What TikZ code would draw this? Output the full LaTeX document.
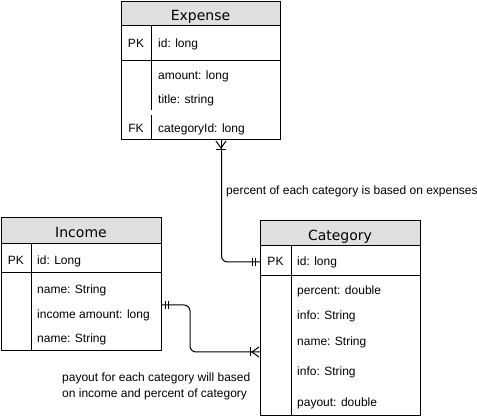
\documentclass[tikz,border=0pt]{standalone}
\usepackage{fontspec}
\setmainfont{Liberation Sans}
\newfontfamily\titlefont{DejaVu Sans}
\definecolor{hdrgray}{RGB}{224,224,224}
\tikzset{
  ent/.style={draw=black, line width=1pt, outer sep=0pt, inner sep=0pt, anchor=north west},
  sep/.style={draw=black, line width=1pt},
  hdrfill/.style={fill=hdrgray},
  fld/.style={anchor=base west, inner sep=0pt, font=\fontsize{12}{14}\selectfont},
  keytxt/.style={anchor=base, inner sep=0pt, font=\fontsize{12}{14}\selectfont},
  ttl/.style={anchor=base, inner sep=0pt, font=\titlefont\fontsize{14}{16}\selectfont},
  lbl/.style={anchor=base west, inner sep=0pt, font=\fontsize{12}{14}\selectfont},
  conn/.style={draw=black, line width=1pt, rounded corners=6pt},
  ermark/.style={draw=black, line width=1pt},
}
\begin{document}
\begin{tikzpicture}[x=1pt,y=-1pt]
\useasboundingbox (0,0) rectangle (477,419);

% ---------- Expense ----------
\fill[hdrfill] (121,2) rectangle (280,26);
\node[ent, minimum width=159pt, minimum height=138pt] (expense) at (121,2) {};
\draw[sep] (121,26) -- (280,26);
\draw[sep] (121,61) -- (280,61);
\draw[sep] (151,26) -- (151,110);
\draw[sep] (151,115) -- (151,140);
\node[ttl] (exptitle) at (200.5,21) {Expense};
\node[keytxt] (exppk) at (136,47.5) {PK};
\node[fld] (expid) at (158,47.5) {id: long};
\node[fld] (expamount) at (158,79.5) {amount: long};
\node[fld] (exptitlef) at (158,103.5) {title: string};
\node[keytxt] (expfk) at (136,132.5) {FK};
\node[fld] (expcat) at (158,132.5) {categoryId: long};

% ---------- Income ----------
\fill[hdrfill] (1,218) rectangle (161,244);
\node[ent, minimum width=160pt, minimum height=133pt] (income) at (1,218) {};
\draw[sep] (1,244) -- (161,244);
\draw[sep] (1,273) -- (161,273);
\draw[sep] (31,244) -- (31,351);
\node[ttl] (inctitle) at (81,238) {Income};
\node[keytxt] (incpk) at (16,264.5) {PK};
\node[fld] (incid) at (37,264.5) {id: Long};
\node[fld] (incname) at (37,293.5) {name: String};
\node[fld] (incamount) at (37,318.5) {income amount: long};
\node[fld] (incname2) at (37,342.5) {name: String};

% ---------- Category ----------
\fill[hdrfill] (260,221) rectangle (420,246);
\node[ent, minimum width=160pt, minimum height=195pt] (category) at (260,221) {};
\draw[sep] (260,246) -- (420,246);
\draw[sep] (260,276) -- (420,276);
\draw[sep] (291,246) -- (291,416);
\node[ttl] (cattitle) at (340,240.5) {Category};
\node[keytxt] (catpk) at (275.5,265.5) {PK};
\node[fld] (catid) at (297,265.5) {id: long};
\node[fld] (catpercent) at (297,294.5) {percent: double};
\node[fld] (catinfo) at (297,319.5) {info: String};
\node[fld] (catname) at (297,345.5) {name: String};
\node[fld] (catinfo2) at (297,375.5) {info: String};
\node[fld] (catpayout) at (297,406.5) {payout: double};

% ---------- Connectors ----------
\draw[conn] ([xshift=21pt]expense.south) |- ([yshift=-41pt]category.north west);
\draw[conn] ([yshift=-87pt]income.north east) -- ++(29,0) |- ([yshift=-131pt]category.north west);

% markers: Expense end (one-to-many)
\draw[ermark] (216,141) -- (221,148) -- (226,141);
\draw[ermark] (216,150) -- (226,150);
% Category end of connector 1 (mandatory one)
\draw[ermark] (252,258) -- (252,266);
\draw[ermark] (255,258) -- (255,266);
% Income end (mandatory one)
\draw[ermark] (165,301) -- (165,309);
\draw[ermark] (168,301) -- (168,309);
% Category end of connector 2 (one-to-many)
\draw[ermark] (259,347) -- (252,352) -- (259,357);
\draw[ermark] (250,347.5) -- (250,356.5);

% ---------- Labels ----------
\node[lbl] (lblexp) at (226,194.5) {percent of each category is based on expenses};
\node[lbl] (lblpay1) at (62,381.5) {payout for each category will based};
\node[lbl] (lblpay2) at (62,397.5) {on income and percent of category};
\end{tikzpicture}
\end{document}
